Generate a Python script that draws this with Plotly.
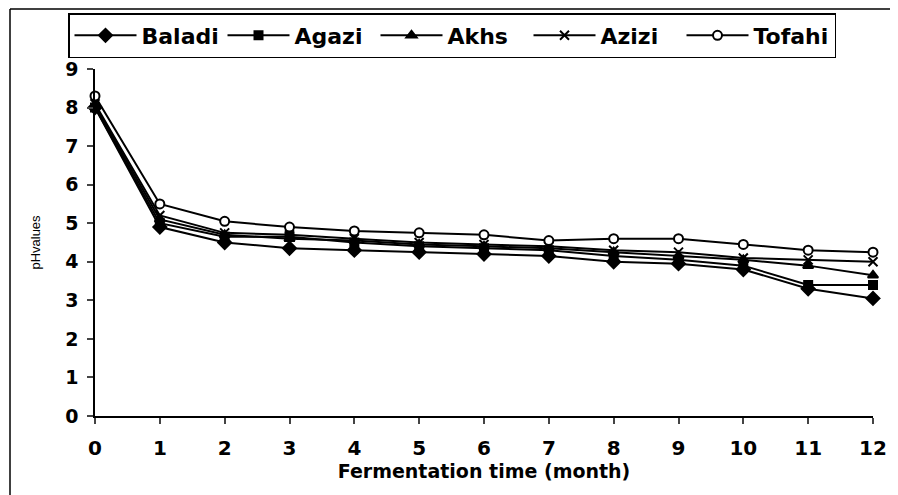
import plotly.graph_objects as go

months = list(range(13))

baladi = [8.0, 4.9, 4.5, 4.35, 4.3, 4.25, 4.2, 4.15, 4.0, 3.95, 3.8, 3.3, 3.05]
agazi = [8.0, 5.0, 4.65, 4.65, 4.5, 4.4, 4.35, 4.3, 4.15, 4.05, 3.9, 3.4, 3.4]
akhs = [8.05, 5.1, 4.7, 4.6, 4.55, 4.45, 4.4, 4.35, 4.25, 4.15, 4.05, 3.9, 3.65]
azizi = [8.1, 5.2, 4.75, 4.7, 4.6, 4.5, 4.45, 4.4, 4.3, 4.25, 4.1, 4.05, 4.0]
tofahi = [8.3, 5.5, 5.05, 4.9, 4.8, 4.75, 4.7, 4.55, 4.6, 4.6, 4.45, 4.3, 4.25]

series = [
    ("Baladi", baladi, "diamond", 10, "black"),
    ("Agazi", agazi, "square", 8, "black"),
    ("Akhs", akhs, "triangle-up", 9, "black"),
    ("Azizi", azizi, "x-thin", 9, "black"),
    ("Tofahi", tofahi, "circle", 9, "white"),
]

heavy = "DejaVu Sans"

fig = go.Figure()

for name, values, symbol, size, fill in series:
    fig.add_trace(
        go.Scatter(
            x=months,
            y=values,
            mode="lines+markers",
            name=name,
            cliponaxis=False,
            line=dict(color="black", width=2),
            marker=dict(
                symbol=symbol,
                size=size,
                color=fill,
                line=dict(color="black", width=2)
            )
        )
    )

# page has an 8px body margin, so the figure is drawn 8px in and 8px down
# screen plot area: x 95..873, y 69..416
def px_x(p):
    return (p - 95) / 778

def px_y(p):
    return (416 - p) / 347

# outer frame (top and left edges, the rest runs off the picture)
fig.add_shape(
    type="line", xref="paper", yref="paper",
    x0=px_x(10), x1=px_x(910), y0=px_y(9), y1=px_y(9),
    line=dict(color="black", width=1.5)
)
fig.add_shape(
    type="line", xref="paper", yref="paper",
    x0=px_x(10), x1=px_x(10), y0=px_y(9), y1=px_y(510),
    line=dict(color="black", width=1.5)
)

fig.update_layout(
    width=890,
    height=487,
    margin=dict(l=87, r=25, t=61, b=79, autoexpand=False),
    paper_bgcolor="white",
    plot_bgcolor="white",
    font=dict(family="Liberation Sans", color="black"),
    legend=dict(
        orientation="h",
        xref="container", yref="container",
        x=60 / 890, y=1 - 5 / 487,
        xanchor="left", yanchor="top",
        bordercolor="black",
        borderwidth=1.5,
        bgcolor="white",
        font=dict(size=22, family=heavy, weight="bold"),
        itemwidth=62,
        entrywidth=76,
        tracegroupgap=0
    ),
    xaxis=dict(
        range=[0, 12],
        tickmode="array",
        tickvals=months,
        ticks="outside",
        ticklen=6,
        tickwidth=1.5,
        ticklabelstandoff=7,
        showline=True,
        linecolor="black",
        linewidth=1.5,
        showgrid=False,
        zeroline=False,
        tickfont=dict(size=20, family=heavy, weight="bold"),
        title=dict(
            text="Fermentation time (month)",
            font=dict(size=19, family=heavy, weight="bold"),
            standoff=4
        )
    ),
    yaxis=dict(
        range=[0, 9],
        dtick=1,
        ticks="outside",
        ticklen=6,
        tickwidth=1.5,
        ticklabelstandoff=5,
        showline=True,
        linecolor="black",
        linewidth=1.5,
        showgrid=False,
        zeroline=False,
        tickfont=dict(size=19, family=heavy, weight="bold"),
        title=dict(
            text="pHvalues",
            font=dict(size=13),
            standoff=22
        )
    )
)

fig.write_html("out.html")
